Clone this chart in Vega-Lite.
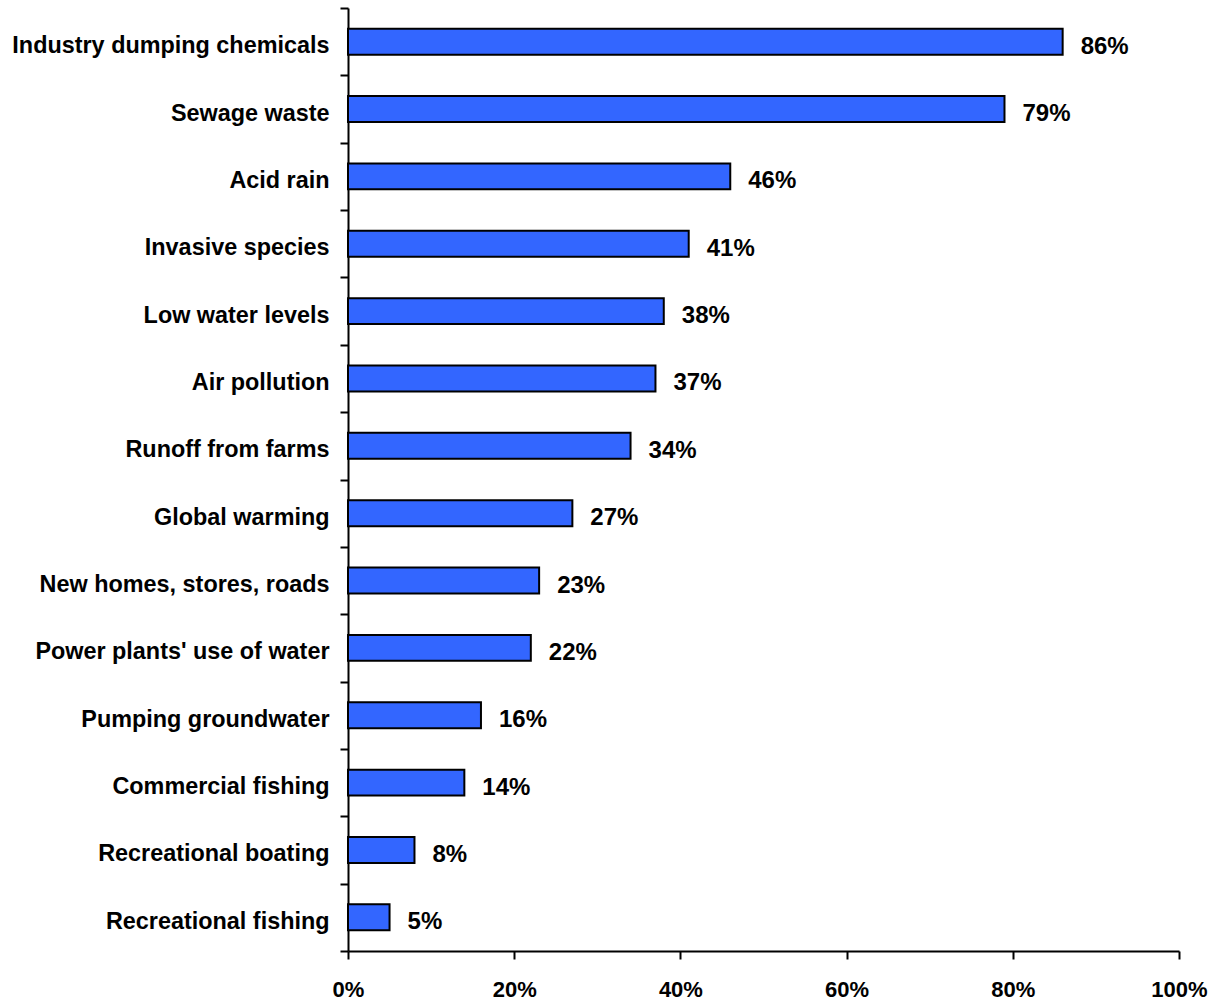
{
  "$schema": "https://vega.github.io/schema/vega-lite/v6.json",
  "width": 831,
  "height": 943,
  "autosize": "none",
  "padding": {"left": 348, "top": 8, "right": 43, "bottom": 53},
  "background": "white",
  "data": {
    "values": [
      {"cause": "Industry dumping chemicals", "share": 0.86},
      {"cause": "Sewage waste", "share": 0.79},
      {"cause": "Acid rain", "share": 0.46},
      {"cause": "Invasive species", "share": 0.41},
      {"cause": "Low water levels", "share": 0.38},
      {"cause": "Air pollution", "share": 0.37},
      {"cause": "Runoff from farms", "share": 0.34},
      {"cause": "Global warming", "share": 0.27},
      {"cause": "New homes, stores, roads", "share": 0.23},
      {"cause": "Power plants' use of water", "share": 0.22},
      {"cause": "Pumping groundwater", "share": 0.16},
      {"cause": "Commercial fishing", "share": 0.14},
      {"cause": "Recreational boating", "share": 0.08},
      {"cause": "Recreational fishing", "share": 0.05}
    ]
  },
  "encoding": {
    "y": {
      "field": "cause",
      "type": "nominal",
      "sort": null,
      "title": null,
      "scale": {"paddingInner": 0, "paddingOuter": 0},
      "axis": {
        "tickBand": "extent",
        "tickSize": 8,
        "tickWidth": 2,
        "tickColor": "black",
        "domainColor": "black",
        "domainWidth": 2,
        "labelFont": "Liberation Sans",
        "labelFontWeight": "bold",
        "labelFontSize": 23.4,
        "labelColor": "black",
        "labelPadding": 11,
        "labelBaseline": "alphabetic",
        "labelOffset": 11,
        "labelLimit": 400
      }
    },
    "x": {
      "field": "share",
      "type": "quantitative",
      "title": null,
      "scale": {"domain": [0, 1], "nice": false},
      "axis": {
        "values": [0, 0.2, 0.4, 0.6, 0.8, 1],
        "format": ".0%",
        "grid": false,
        "tickSize": 8,
        "tickWidth": 2,
        "tickColor": "black",
        "domainColor": "black",
        "domainWidth": 2,
        "labelFont": "Liberation Sans",
        "labelFontWeight": "bold",
        "labelFontSize": 22,
        "labelColor": "black",
        "labelPadding": 20,
        "labelFlush": false
      }
    }
  },
  "layer": [
    {
      "mark": {"type": "bar", "color": "#3366FF", "stroke": "black", "strokeWidth": 2, "height": {"band": 0.385}}
    },
    {
      "mark": {
        "type": "text",
        "align": "left",
        "baseline": "alphabetic",
        "dx": 18,
        "dy": 12,
        "font": "Liberation Sans",
        "fontWeight": "bold",
        "fontSize": 24,
        "color": "black"
      },
      "encoding": {
        "text": {"field": "share", "type": "quantitative", "format": ".0%"}
      }
    }
  ],
  "config": {
    "view": {"stroke": null},
    "axis": {"grid": false}
  }
}
